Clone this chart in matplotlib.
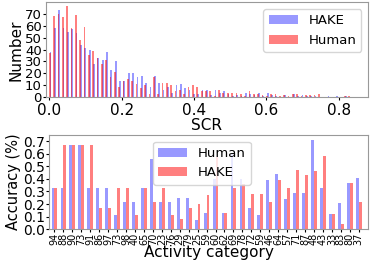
import numpy as np
import matplotlib
matplotlib.use("Agg")
import matplotlib.pyplot as plt

# SCR histogram counts (70 bins from 0 to 0.84)
human_counts = [37, 68, 70, 67, 76, 58, 69, 48, 59, 35,
                39, 33, 28, 31, 17, 21, 9, 14, 15, 14,
                11, 8, 10, 3, 17, 3, 12, 12, 10, 5,
                6, 3, 9, 10, 9, 5, 5, 5, 1, 6,
                4, 4, 4, 4, 3, 1, 5, 3, 3, 2,
                1, 3, 3, 1, 2, 1, 3, 3, 1, 2,
                2, 2, 3, 0, 0, 0, 0, 0, 1, 1]
hake_counts = [38, 58, 73, 58, 55, 57, 54, 44, 41, 40,
               28, 33, 31, 38, 23, 30, 14, 14, 20, 20,
               17, 18, 12, 9, 18, 12, 6, 9, 4, 10,
               11, 8, 6, 3, 3, 6, 6, 2, 6, 4,
               5, 3, 1, 2, 1, 4, 3, 2, 4, 1,
               4, 2, 1, 0, 2, 0, 3, 1, 2, 1,
               1, 1, 0, 0, 1, 0, 1, 0, 1, 0]
bin_edges = np.linspace(0, 0.84, 71)

# accuracy per activity category
categories = ["94", "88", "90", "73", "91", "86", "97", "73", "98", "40",
              "65", "70", "23", "76", "29", "79", "25", "59", "60", "62",
              "69", "78", "72", "59", "46", "64", "57", "71", "87", "48",
              "43", "33", "83", "80", "37"]
human_acc = [0.33, 0.33, 0.67, 0.67, 0.33, 0.33, 0.33, 0.11, 0.22, 0.22,
             0.33, 0.56, 0.22, 0.22, 0.25, 0.25, 0.07, 0.13, 0.40, 0.13,
             0.60, 0.40, 0.17, 0.11, 0.39, 0.44, 0.24, 0.29, 0.29, 0.71,
             0.33, 0.12, 0.21, 0.37, 0.41]
hake_acc = [0.33, 0.67, 0.67, 0.67, 0.67, 0.17, 0.17, 0.33, 0.33, 0.11,
            0.33, 0.22, 0.33, 0.11, 0.08, 0.17, 0.20, 0.27, 0.57, 0.13,
            0.33, 0.36, 0.28, 0.28, 0.22, 0.39, 0.33, 0.47, 0.43, 0.46,
            0.58, 0.12, 0.04, 0.37, 0.22]

fig = plt.figure(figsize=(3.74, 2.64), dpi=100)

# top panel: SCR histogram
ax1 = fig.add_axes([46 / 374, 1 - 97.3 / 264, 322 / 374, 95 / 264])
width = bin_edges[1] - bin_edges[0]
left = bin_edges[:-1]
ax1.bar(left + width * 0.3, hake_counts, width * 0.4, color="blue", alpha=0.4, label="HAKE")
ax1.bar(left + width * 0.1, human_counts, width * 0.4, color="red", alpha=0.5, label="Human")
ax1.set_xlim(-0.009, 0.881)
ax1.set_ylim(0, 79.5)
ax1.set_yticks([0, 10, 20, 30, 40, 50, 60, 70])
ax1.set_xticks([0.0, 0.2, 0.4, 0.6, 0.8])
ax1.set_xlabel("SCR", fontsize=11, labelpad=0)
ax1.set_ylabel("Number", fontsize=11, labelpad=1)
ax1.tick_params(axis="y", labelsize=9.5, length=2, pad=1)
ax1.tick_params(axis="x", labelsize=11, length=2, pad=2)
ax1.legend(fontsize=9.5, loc="upper right", handlelength=2.2)

# bottom panel: accuracy per category
ax2 = fig.add_axes([49 / 374, 1 - 229.3 / 264, 319 / 374, 94.3 / 264])
x = np.arange(len(categories))
ax2.bar(x - 0.16, human_acc, 0.32, color="blue", alpha=0.4, label="Human")
ax2.bar(x + 0.16, hake_acc, 0.32, color="red", alpha=0.5, label="HAKE")
ax2.set_xlim(-0.61, 35.04)
ax2.set_ylim(0, 0.748)
ax2.set_yticks([0.0, 0.1, 0.2, 0.3, 0.4, 0.5, 0.6, 0.7])
ax2.set_xticks(x)
ax2.set_xticklabels(categories, rotation=90, fontsize=7)
ax2.set_xlabel("Activity category", fontsize=11, labelpad=0)
ax2.set_ylabel("Accuracy (%)", fontsize=10.5, labelpad=1)
ax2.tick_params(axis="y", labelsize=10, length=2, pad=1)
ax2.tick_params(axis="x", length=2, pad=0.5)
ax2.legend(fontsize=9.5, loc="upper center", handlelength=2.2,
           bbox_to_anchor=(0.48, 1.0))

for ax in (ax1, ax2):
    for s in ax.spines.values():
        s.set_color("0.6")

fig.savefig("out.png", dpi=100)
